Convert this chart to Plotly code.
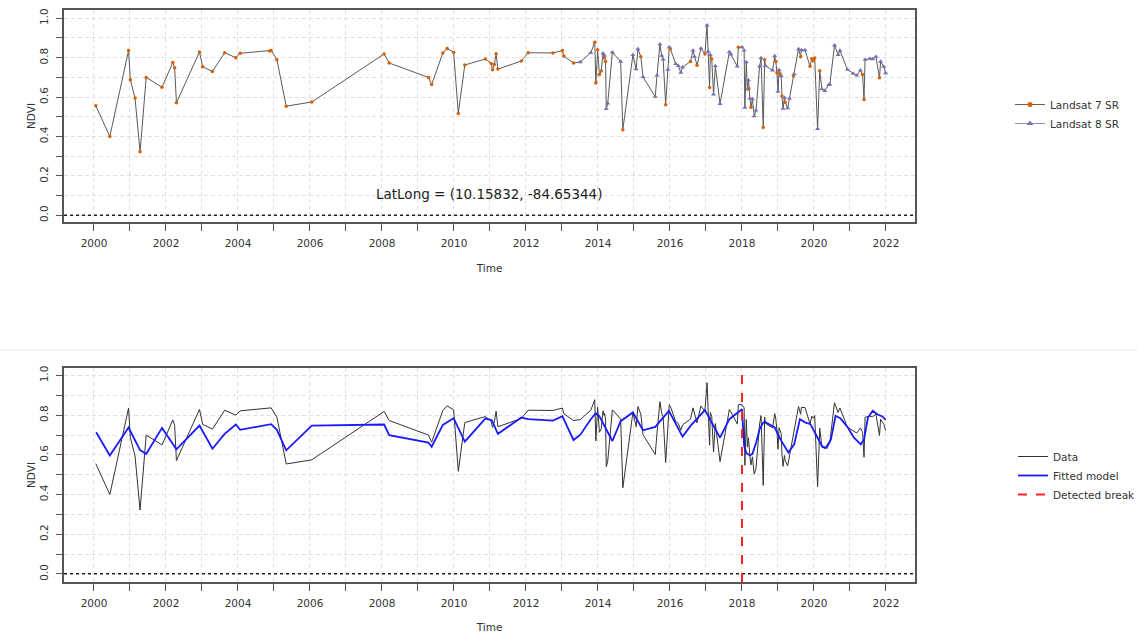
import plotly.graph_objects as go

# ---------------- data ----------------
l7_time = [2000.05, 2000.44, 2000.96, 2001.01, 2001.14, 2001.28, 2001.45, 2001.89, 2002.19, 2002.24,
           2002.29, 2002.93, 2003.02, 2003.29, 2003.63, 2003.94, 2004.06, 2004.88, 2004.92, 2005.08,
           2005.34, 2006.05, 2008.06, 2008.20, 2009.29, 2009.38, 2009.69, 2009.81, 2009.99, 2010.12,
           2010.30, 2010.87, 2011.03, 2011.07, 2011.12, 2011.17, 2011.22, 2011.87, 2012.06, 2012.75,
           2013.01, 2013.05, 2013.32, 2013.91, 2013.94, 2013.99, 2014.04, 2014.09, 2014.17, 2014.21,
           2014.69, 2015.19, 2015.88, 2016.01, 2016.57, 2016.75, 2016.97, 2017.10, 2017.16, 2017.90,
           2018.19, 2018.25, 2018.59, 2018.63, 2018.94, 2018.97, 2019.06, 2019.11, 2019.20, 2019.43,
           2019.63, 2019.89, 2019.94, 2019.98, 2020.02, 2020.16, 2021.35, 2021.39, 2021.82]
l7_ndvi = [0.556, 0.400, 0.836, 0.688, 0.595, 0.322, 0.700, 0.650, 0.776, 0.749,
           0.571, 0.829, 0.754, 0.730, 0.825, 0.800, 0.822, 0.834, 0.837, 0.790,
           0.554, 0.575, 0.819, 0.773, 0.700, 0.664, 0.824, 0.847, 0.827, 0.517,
           0.763, 0.793, 0.771, 0.739, 0.766, 0.820, 0.742, 0.783, 0.825, 0.824,
           0.836, 0.808, 0.773, 0.878, 0.671, 0.840, 0.714, 0.732, 0.800, 0.780,
           0.434, 0.805, 0.561, 0.844, 0.781, 0.761, 0.819, 0.649, 0.793, 0.853,
           0.644, 0.549, 0.446, 0.790, 0.780, 0.724, 0.717, 0.605, 0.573, 0.707,
           0.805, 0.756, 0.795, 0.785, 0.798, 0.734, 0.714, 0.588, 0.698]

l8_time = [2013.51, 2013.80, 2014.14, 2014.18, 2014.23, 2014.27, 2014.40, 2014.63, 2014.97, 2015.06,
           2015.11, 2015.25, 2015.59, 2015.64, 2015.72, 2015.77, 2015.81, 2015.94, 2015.98, 2016.16,
           2016.23, 2016.30, 2016.35, 2016.64, 2016.68, 2016.86, 2017.03, 2017.06, 2017.12, 2017.21,
           2017.26, 2017.39, 2017.65, 2017.69, 2017.87, 2018.00, 2018.06, 2018.08, 2018.12, 2018.15,
           2018.18, 2018.22, 2018.29, 2018.34, 2018.39, 2018.49, 2018.53, 2018.65, 2018.85, 2018.91,
           2019.00, 2019.03, 2019.09, 2019.14, 2019.18, 2019.27, 2019.32, 2019.45, 2019.57, 2019.65,
           2019.75, 2020.10, 2020.22, 2020.30, 2020.41, 2020.44, 2020.57, 2020.67, 2020.72, 2020.93,
           2021.09, 2021.19, 2021.29, 2021.42, 2021.55, 2021.63, 2021.72, 2021.85, 2021.94, 2021.99]
l8_ndvi = [0.778, 0.825, 0.822, 0.810, 0.540, 0.568, 0.827, 0.780, 0.814, 0.742,
           0.844, 0.702, 0.602, 0.710, 0.868, 0.810, 0.792, 0.739, 0.853, 0.768,
           0.759, 0.724, 0.751, 0.837, 0.805, 0.847, 0.964, 0.831, 0.814, 0.614,
           0.758, 0.566, 0.829, 0.817, 0.756, 0.853, 0.837, 0.547, 0.778, 0.639,
           0.686, 0.593, 0.590, 0.503, 0.532, 0.756, 0.798, 0.759, 0.736, 0.808,
           0.628, 0.737, 0.707, 0.542, 0.597, 0.544, 0.593, 0.717, 0.844, 0.839,
           0.839, 0.439, 0.641, 0.632, 0.663, 0.663, 0.863, 0.814, 0.836, 0.739,
           0.719, 0.710, 0.736, 0.790, 0.795, 0.793, 0.805, 0.780, 0.754, 0.722]

fit_time = [2000.06, 2000.44, 2000.96, 2001.28, 2001.45, 2001.89, 2002.29, 2002.93, 2003.29, 2003.63,
            2003.94, 2004.06, 2004.92, 2005.08, 2005.34, 2006.05, 2008.06, 2008.20, 2009.29, 2009.38,
            2009.69, 2009.99, 2010.30, 2010.87, 2011.05, 2011.22, 2011.87, 2012.06, 2012.75, 2013.01,
            2013.32, 2013.51, 2013.80, 2013.94, 2014.04, 2014.40, 2014.63, 2014.97, 2015.25, 2015.59,
            2015.97, 2016.35, 2016.57, 2016.97, 2017.39, 2017.65, 2018.00,
            2018.06, 2018.12, 2018.22, 2018.29, 2018.39, 2018.49, 2018.59, 2018.63, 2018.91, 2019.07,
            2019.29, 2019.45, 2019.61, 2019.75, 2019.90, 2020.05, 2020.23, 2020.35, 2020.47, 2020.60,
            2020.74, 2020.94, 2021.11, 2021.30, 2021.39, 2021.50, 2021.63, 2021.76, 2021.90, 2021.99]
fit_ndvi = [0.714, 0.597, 0.738, 0.624, 0.604, 0.736, 0.628, 0.748, 0.631, 0.706,
            0.753, 0.726, 0.755, 0.726, 0.623, 0.748, 0.753, 0.699, 0.662, 0.641,
            0.751, 0.785, 0.667, 0.783, 0.775, 0.706, 0.788, 0.780, 0.773, 0.795,
            0.675, 0.702, 0.780, 0.810, 0.794, 0.670, 0.770, 0.814, 0.724, 0.741,
            0.822, 0.692, 0.746, 0.826, 0.687, 0.780, 0.830,
            0.645, 0.610, 0.597, 0.605, 0.660, 0.730, 0.763, 0.767, 0.738, 0.678,
            0.612, 0.653, 0.780, 0.764, 0.755, 0.704, 0.641, 0.635, 0.678, 0.797,
            0.783, 0.738, 0.687, 0.653, 0.678, 0.788, 0.822, 0.805, 0.794, 0.777]

break_year = 2018.0
latlong_text = "LatLong = (10.15832, -84.65344)"
x_tick_labels = [str(y) for y in range(2000, 2023, 2)]

# combined, time-ordered series (both sensors)
combined = sorted(zip(l7_time + l8_time, l7_ndvi + l8_ndvi))
all_time = [c[0] for c in combined]
all_ndvi = [c[1] for c in combined]

# ---------------- styling ----------------
W, H = 1137, 633
FONT = "DejaVu Sans"
C7 = "#D95F02"
C8 = "#7570B3"
GRID = "#e0e0e0"
GDASH = "4px,3px"
AXC = "#555555"
TXT = "#333333"


def px_x(p):
    return p / W


def px_y(p):
    return 1 - p / H


fig = go.Figure()

# ---- top panel ----
fig.add_trace(go.Scatter(x=all_time, y=all_ndvi, mode="lines",
                         line=dict(color="#5a5a5a", width=1), showlegend=False,
                         xaxis="x", yaxis="y", hoverinfo="skip"))
fig.add_trace(go.Scatter(x=l7_time, y=l7_ndvi, mode="markers",
                         marker=dict(color=C7, size=3.5, symbol="circle"),
                         showlegend=False, xaxis="x", yaxis="y"))
fig.add_trace(go.Scatter(x=l8_time, y=l8_ndvi, mode="markers",
                         marker=dict(color=C8, size=4.5, symbol="triangle-up"),
                         showlegend=False, xaxis="x", yaxis="y"))
# legend entries (line + marker)
fig.add_trace(go.Scatter(x=[None], y=[None], mode="lines+markers", name="Landsat 7 SR",
                         line=dict(color="#7a5a45", width=1),
                         marker=dict(color=C7, size=5, symbol="circle"),
                         legend="legend", xaxis="x", yaxis="y"))
fig.add_trace(go.Scatter(x=[None], y=[None], mode="lines+markers", name="Landsat 8 SR",
                         line=dict(color="#8f8cb8", width=1),
                         marker=dict(color=C8, size=6, symbol="triangle-up"),
                         legend="legend", xaxis="x", yaxis="y"))

# ---- bottom panel ----
fig.add_trace(go.Scatter(x=all_time, y=all_ndvi, mode="lines", name="Data",
                         line=dict(color="#333333", width=1),
                         legend="legend2", xaxis="x2", yaxis="y2"))
fig.add_trace(go.Scatter(x=fit_time, y=fit_ndvi, mode="lines", name="Fitted model",
                         line=dict(color="#1a1aff", width=1.8),
                         legend="legend2", xaxis="x2", yaxis="y2"))
fig.add_trace(go.Scatter(x=[None], y=[None], mode="lines", name="Detected break",
                         line=dict(color="#ff2020", width=2, dash="dash"),
                         legend="legend2", xaxis="x2", yaxis="y2"))


def xaxis_cfg(domain_anchor, rng):
    return dict(
        domain=[px_x(64), px_x(915)], anchor=domain_anchor, range=rng, automargin=False,
        tickmode="array", tickvals=[int(t) for t in x_tick_labels], ticktext=x_tick_labels,
        ticks="outside", ticklen=7, tickcolor=AXC, tickwidth=1, ticklabelstandoff=4,
        minor=dict(dtick=1, tick0=2000, ticks="outside", ticklen=7, tickcolor=AXC,
                   showgrid=True, gridcolor=GRID, griddash=GDASH, gridwidth=1),
        showgrid=True, gridcolor=GRID, griddash=GDASH, gridwidth=1,
        showline=True, mirror=True, linecolor=AXC, linewidth=1.5,
        zeroline=False, tickfont=dict(family=FONT, size=10.5, color=TXT),
        title=dict(text="Time", font=dict(family=FONT, size=10.5, color=TXT), standoff=16),
    )


def yaxis_cfg(domain, anchor, rng):
    return dict(
        domain=domain, anchor=anchor, range=rng, automargin=False,
        tickmode="linear", tick0=0, dtick=0.2, tickformat=".1f", tickangle=-90,
        ticks="outside", ticklen=6, tickcolor=AXC, ticklabelstandoff=4,
        minor=dict(dtick=0.1, tick0=0, ticks="outside", ticklen=6, tickcolor=AXC,
                   showgrid=True, gridcolor=GRID, griddash=GDASH, gridwidth=1),
        showgrid=True, gridcolor=GRID, griddash=GDASH, gridwidth=1,
        showline=True, mirror=True, linecolor=AXC, linewidth=1.5,
        zeroline=False, tickfont=dict(family=FONT, size=10.5, color=TXT),
        title=dict(text="NDVI", font=dict(family=FONT, size=10.5, color=TXT), standoff=0),
    )


fig.update_layout(
    width=W, height=H, autosize=False,
    margin=dict(l=0, r=0, t=0, b=0, autoexpand=False),
    paper_bgcolor="white", plot_bgcolor="white",
    font=dict(family=FONT, size=10.5, color=TXT),
    xaxis=xaxis_cfg("y", [1999.167, 2022.806]),
    yaxis=yaxis_cfg([px_y(222), px_y(10)], "x", [-0.034, 1.042]),
    xaxis2=xaxis_cfg("y2", [1999.167, 2022.806]),
    yaxis2=yaxis_cfg([px_y(582), px_y(368)], "x2", [-0.041, 1.038]),
    legend=dict(x=px_x(1010), y=px_y(90), xanchor="left", yanchor="top",
                bgcolor="rgba(0,0,0,0)", font=dict(family=FONT, size=10.5, color=TXT),
                itemwidth=30, tracegroupgap=0),
    legend2=dict(x=px_x(1013), y=px_y(442), xanchor="left", yanchor="top",
                 bgcolor="rgba(0,0,0,0)", font=dict(family=FONT, size=10.5, color=TXT),
                 itemwidth=30, tracegroupgap=0),
    showlegend=True,
)

# dotted zero lines
for xr, yr in (("x domain", "y"), ("x2 domain", "y2")):
    fig.add_shape(type="line", xref=xr, yref=yr, x0=0, x1=1, y0=0, y1=0,
                  line=dict(color="#222222", width=1.5, dash="dot"), layer="above")

# detected break
fig.add_shape(type="line", xref="x2", yref="y2 domain", x0=break_year, x1=break_year, y0=0, y1=1,
              line=dict(color="#ff2020", width=2, dash="dash"), layer="above")

# separator between panels
fig.add_shape(type="line", xref="paper", yref="paper", x0=0, x1=1, y0=px_y(350), y1=px_y(350),
              line=dict(color="#e6e6e6", width=1))

fig.add_annotation(x=2010.97, y=0.107, xref="x", yref="y", text=latlong_text, showarrow=False,
                   font=dict(family=FONT, size=13.5, color="#222222"))

# remove the browser's default page margin so the figure sits at the window origin
fig.write_html("out.html",
               config={"displayModeBar": False},
               post_script="document.body.style.margin='0px';document.body.style.overflow='hidden';")
